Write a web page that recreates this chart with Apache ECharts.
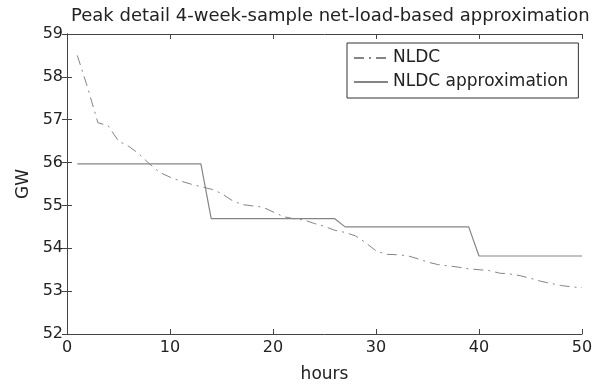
<!DOCTYPE html>
<html>
<head>
<meta charset="utf-8">
<script src="https://cdn.jsdelivr.net/npm/echarts@6/dist/echarts.min.js"></script>
<style>
  html, body { margin: 0; padding: 0; background: #fff; }
  #chart { width: 609px; height: 388px; }
</style>
</head>
<body>
<div id="chart"></div>
<script>
const hours = [
  1, 2, 3, 4, 5, 6, 7, 8, 9, 10,
  11, 12, 13, 14, 15, 16, 17, 18, 19, 20,
  21, 22, 23, 24, 25, 26, 27, 28, 29, 30,
  31, 32, 33, 34, 35, 36, 37, 38, 39, 40,
  41, 42, 43, 44, 45, 46, 47, 48, 49, 50
]
const nldc = [
  58.5, 57.75, 56.93, 56.86, 56.5, 56.38, 56.2, 55.97, 55.77, 55.66,
  55.57, 55.5, 55.44, 55.38, 55.28, 55.12, 55.02, 54.99, 54.96, 54.85,
  54.74, 54.69, 54.66, 54.58, 54.51, 54.42, 54.37, 54.29, 54.13, 53.94,
  53.86, 53.85, 53.83, 53.76, 53.68, 53.62, 53.59, 53.56, 53.52, 53.5,
  53.48, 53.42, 53.4, 53.36, 53.3, 53.23, 53.18, 53.13, 53.1, 53.08
]
const nldcApprox = [
  55.97, 55.97, 55.97, 55.97, 55.97, 55.97, 55.97, 55.97, 55.97, 55.97,
  55.97, 55.97, 55.97, 54.69, 54.69, 54.69, 54.69, 54.69, 54.69, 54.69,
  54.69, 54.69, 54.69, 54.69, 54.69, 54.69, 54.5, 54.5, 54.5, 54.5,
  54.5, 54.5, 54.5, 54.5, 54.5, 54.5, 54.5, 54.5, 54.5, 53.82,
  53.82, 53.82, 53.82, 53.82, 53.82, 53.82, 53.82, 53.82, 53.82, 53.82
]
const xTicks = [0, 10, 20, 30, 40, 50]
const yTicks = [52, 53, 54, 55, 56, 57, 58, 59]

const font = 'DejaVu Sans, sans-serif'
const axisColor = '#444'
const textColor = '#222'
const lineColor = '#858585'

const chart = echarts.init(document.getElementById('chart'))

// the four box axes, matlab style: ticks point inward
const boxLine = { show: true, lineStyle: { color: axisColor, width: 1 } }
const boxTick = { show: true, inside: true, length: 5, lineStyle: { color: axisColor } }

chart.setOption({
  animation: false,
  backgroundColor: '#fff',
  title: {
    text: 'Peak detail 4-week-sample net-load-based approximation',
    left: 66,
    top: 2,
    textStyle: { fontFamily: font, fontSize: 18, fontWeight: 'normal', color: textColor }
  },
  legend: {
    orient: 'vertical',
    left: 347,
    top: 43,
    padding: [5, 10, 6, 6],
    itemGap: 4,
    itemWidth: 34,
    itemHeight: 14,
    itemStyle: { opacity: 0 },
    backgroundColor: '#fff',
    borderColor: '#333',
    borderWidth: 1,
    borderRadius: 0,
    textStyle: { fontFamily: font, fontSize: 17, color: textColor, lineHeight: 20 },
    data: ['NLDC', 'NLDC approximation']
  },
  grid: { left: 67, right: 27, top: 34, bottom: 50 },
  xAxis: [
    {
      type: 'value',
      min: xTicks[0],
      max: xTicks[xTicks.length - 1],
      interval: 10,
      name: 'hours',
      nameLocation: 'middle',
      nameGap: 32,
      nameTextStyle: { fontFamily: font, fontSize: 17, color: textColor },
      axisLine: boxLine,
      axisTick: boxTick,
      splitLine: { show: false },
      axisLabel: { margin: 6, fontFamily: font, fontSize: 16, color: textColor }
    },
    {
      type: 'value',
      position: 'top',
      min: xTicks[0],
      max: xTicks[xTicks.length - 1],
      interval: 10,
      axisLine: boxLine,
      axisTick: boxTick,
      splitLine: { show: false },
      axisLabel: { show: false }
    }
  ],
  yAxis: [
    {
      type: 'value',
      min: yTicks[0],
      max: yTicks[yTicks.length - 1],
      interval: 1,
      name: 'GW',
      nameLocation: 'middle',
      nameGap: 33,
      nameTextStyle: { fontFamily: font, fontSize: 17, color: textColor },
      axisLine: boxLine,
      axisTick: boxTick,
      splitLine: { show: false },
      axisLabel: { margin: 4, fontFamily: font, fontSize: 16, color: textColor }
    },
    {
      type: 'value',
      position: 'right',
      min: yTicks[0],
      max: yTicks[yTicks.length - 1],
      interval: 1,
      axisLine: boxLine,
      axisTick: boxTick,
      splitLine: { show: false },
      axisLabel: { show: false }
    }
  ],
  series: [
    {
      name: 'NLDC',
      type: 'line',
      data: hours.map((h, i) => [h, nldc[i]]),
      symbol: 'none',
      color: lineColor,
      lineStyle: { color: lineColor, width: 1, type: [10, 5, 2, 5] }
    },
    {
      name: 'NLDC approximation',
      type: 'line',
      data: hours.map((h, i) => [h, nldcApprox[i]]),
      symbol: 'none',
      color: lineColor,
      lineStyle: { color: lineColor, width: 1.2, type: 'solid' }
    }
  ]
})
</script>
</body>
</html>
